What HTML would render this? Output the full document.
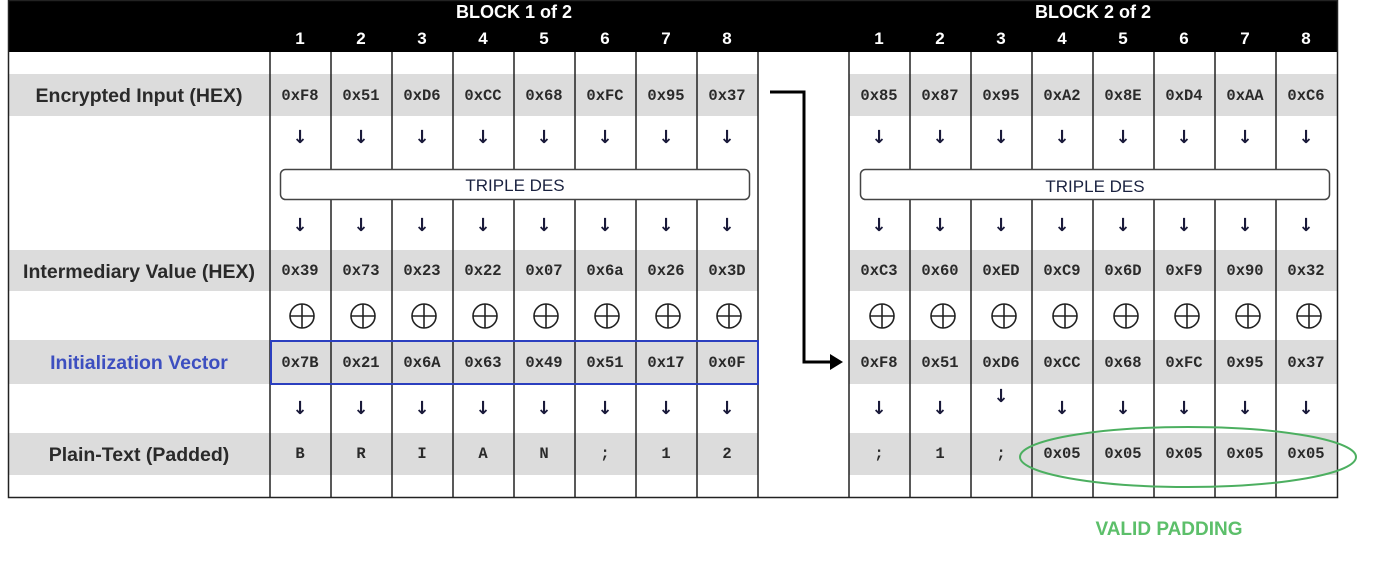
<!DOCTYPE html>
<html><head><meta charset="utf-8"><style>
html,body{margin:0;padding:0;background:#fff;width:1384px;height:562px;overflow:hidden}
svg{display:block}
.h{font-family:"Liberation Mono",monospace;font-size:15.5px;font-weight:bold;fill:#2a2a2a;text-anchor:middle}
.a{font-family:"DejaVu Sans",sans-serif;font-size:18px;font-weight:bold;fill:#1a1a3a;text-anchor:middle}
.l{font-family:"Liberation Sans",sans-serif;font-size:19.5px;font-weight:bold;fill:#2a2a2a;text-anchor:middle}
.n{font-family:"Liberation Sans",sans-serif;font-size:17px;font-weight:bold;fill:#fff;text-anchor:middle}
.t{font-family:"Liberation Sans",sans-serif;font-size:17px;fill:#1a2240;text-anchor:middle}
</style></head><body>
<svg width="1384" height="562" xmlns="http://www.w3.org/2000/svg">
<rect x="8" y="0" width="1329" height="52" fill="#000"/>
<text class="n" x="514" y="18" style="font-size:18px">BLOCK 1 of 2</text>
<text class="n" x="1093" y="18" style="font-size:18px">BLOCK 2 of 2</text>
<g class="n">
<text x="300" y="44">1</text><text x="361" y="44">2</text><text x="422" y="44">3</text><text x="483" y="44">4</text><text x="544" y="44">5</text><text x="605" y="44">6</text><text x="666" y="44">7</text><text x="727" y="44">8</text>
<text x="879" y="44">1</text><text x="940" y="44">2</text><text x="1001" y="44">3</text><text x="1062" y="44">4</text><text x="1123" y="44">5</text><text x="1184" y="44">6</text><text x="1245" y="44">7</text><text x="1306" y="44">8</text>
</g>
<g fill="#dcdcdc">
<rect x="8" y="74" width="750" height="42"/><rect x="849" y="74" width="488" height="42"/>
<rect x="8" y="250" width="750" height="41"/><rect x="849" y="250" width="488" height="41"/>
<rect x="8" y="340" width="750" height="44"/><rect x="849" y="340" width="488" height="44"/>
<rect x="8" y="433" width="750" height="42"/><rect x="849" y="433" width="488" height="42"/>
</g>
<g stroke="#222" stroke-width="1.5">
<line x1="270" y1="52" x2="270" y2="497"/><line x1="331" y1="52" x2="331" y2="497"/><line x1="392" y1="52" x2="392" y2="497"/><line x1="453" y1="52" x2="453" y2="497"/><line x1="514" y1="52" x2="514" y2="497"/><line x1="575" y1="52" x2="575" y2="497"/><line x1="636" y1="52" x2="636" y2="497"/><line x1="697" y1="52" x2="697" y2="497"/><line x1="758" y1="52" x2="758" y2="497"/>
<line x1="849" y1="52" x2="849" y2="497"/><line x1="910" y1="52" x2="910" y2="497"/><line x1="971" y1="52" x2="971" y2="497"/><line x1="1032" y1="52" x2="1032" y2="497"/><line x1="1093" y1="52" x2="1093" y2="497"/><line x1="1154" y1="52" x2="1154" y2="497"/><line x1="1215" y1="52" x2="1215" y2="497"/><line x1="1276" y1="52" x2="1276" y2="497"/>
</g>
<rect x="8.5" y="0.5" width="1329" height="497" fill="none" stroke="#222" stroke-width="1.5"/>
<rect x="280.5" y="169.5" width="469" height="30" rx="5" fill="#fff" stroke="#444" stroke-width="1.5"/>
<rect x="860.5" y="169.5" width="469" height="30" rx="5" fill="#fff" stroke="#444" stroke-width="1.5"/>
<text class="t" x="515" y="191">TRIPLE DES</text>
<text class="t" x="1095" y="192">TRIPLE DES</text>

<text class="l" x="139" y="102">Encrypted Input (HEX)</text>
<text class="l" x="139" y="278">Intermediary Value (HEX)</text>
<text class="l" x="139" y="369" style="fill:#3d4fc0">Initialization Vector</text>
<text class="l" x="139" y="461">Plain-Text (Padded)</text>

<g class="h">
<text x="300" y="100">0xF8</text><text x="361" y="100">0x51</text><text x="422" y="100">0xD6</text><text x="483" y="100">0xCC</text><text x="544" y="100">0x68</text><text x="605" y="100">0xFC</text><text x="666" y="100">0x95</text><text x="727" y="100">0x37</text>
<text x="879" y="100">0x85</text><text x="940" y="100">0x87</text><text x="1001" y="100">0x95</text><text x="1062" y="100">0xA2</text><text x="1123" y="100">0x8E</text><text x="1184" y="100">0xD4</text><text x="1245" y="100">0xAA</text><text x="1306" y="100">0xC6</text>
<text x="300" y="275">0x39</text><text x="361" y="275">0x73</text><text x="422" y="275">0x23</text><text x="483" y="275">0x22</text><text x="544" y="275">0x07</text><text x="605" y="275">0x6a</text><text x="666" y="275">0x26</text><text x="727" y="275">0x3D</text>
<text x="879" y="275">0xC3</text><text x="940" y="275">0x60</text><text x="1001" y="275">0xED</text><text x="1062" y="275">0xC9</text><text x="1123" y="275">0x6D</text><text x="1184" y="275">0xF9</text><text x="1245" y="275">0x90</text><text x="1306" y="275">0x32</text>
<text x="300" y="367">0x7B</text><text x="361" y="367">0x21</text><text x="422" y="367">0x6A</text><text x="483" y="367">0x63</text><text x="544" y="367">0x49</text><text x="605" y="367">0x51</text><text x="666" y="367">0x17</text><text x="727" y="367">0x0F</text>
<text x="879" y="367">0xF8</text><text x="940" y="367">0x51</text><text x="1001" y="367">0xD6</text><text x="1062" y="367">0xCC</text><text x="1123" y="367">0x68</text><text x="1184" y="367">0xFC</text><text x="1245" y="367">0x95</text><text x="1306" y="367">0x37</text>
<text x="300" y="458">B</text><text x="361" y="458">R</text><text x="422" y="458">I</text><text x="483" y="458">A</text><text x="544" y="458">N</text><text x="605" y="458">;</text><text x="666" y="458">1</text><text x="727" y="458">2</text>
<text x="879" y="458">;</text><text x="940" y="458">1</text><text x="1001" y="458">;</text><text x="1062" y="458">0x05</text><text x="1123" y="458">0x05</text><text x="1184" y="458">0x05</text><text x="1245" y="458">0x05</text><text x="1306" y="458">0x05</text>
</g>

<g class="a">
<text x="300" y="143">↓</text><text x="361" y="143">↓</text><text x="422" y="143">↓</text><text x="483" y="143">↓</text><text x="544" y="143">↓</text><text x="605" y="143">↓</text><text x="666" y="143">↓</text><text x="727" y="143">↓</text>
<text x="879" y="143">↓</text><text x="940" y="143">↓</text><text x="1001" y="143">↓</text><text x="1062" y="143">↓</text><text x="1123" y="143">↓</text><text x="1184" y="143">↓</text><text x="1245" y="143">↓</text><text x="1306" y="143">↓</text>
<text x="300" y="231">↓</text><text x="361" y="231">↓</text><text x="422" y="231">↓</text><text x="483" y="231">↓</text><text x="544" y="231">↓</text><text x="605" y="231">↓</text><text x="666" y="231">↓</text><text x="727" y="231">↓</text>
<text x="879" y="231">↓</text><text x="940" y="231">↓</text><text x="1001" y="231">↓</text><text x="1062" y="231">↓</text><text x="1123" y="231">↓</text><text x="1184" y="231">↓</text><text x="1245" y="231">↓</text><text x="1306" y="231">↓</text>
<text x="300" y="414">↓</text><text x="361" y="414">↓</text><text x="422" y="414">↓</text><text x="483" y="414">↓</text><text x="544" y="414">↓</text><text x="605" y="414">↓</text><text x="666" y="414">↓</text><text x="727" y="414">↓</text>
<text x="879" y="414">↓</text><text x="940" y="414">↓</text><text x="1001" y="402">↓</text><text x="1062" y="414">↓</text><text x="1123" y="414">↓</text><text x="1184" y="414">↓</text><text x="1245" y="414">↓</text><text x="1306" y="414">↓</text>
</g>

<g fill="none" stroke="#222" stroke-width="1.6">
<g id="x"><circle cx="302" cy="316" r="12"/><line x1="290" y1="316" x2="314" y2="316"/><line x1="302" y1="304" x2="302" y2="328"/></g>
<use href="#x" x="61"/><use href="#x" x="122"/><use href="#x" x="183"/><use href="#x" x="244"/><use href="#x" x="305"/><use href="#x" x="366"/><use href="#x" x="427"/>
<use href="#x" x="580"/><use href="#x" x="641"/><use href="#x" x="702"/><use href="#x" x="763"/><use href="#x" x="824"/><use href="#x" x="885"/><use href="#x" x="946"/><use href="#x" x="1007"/>
</g>

<rect x="271" y="341" width="487" height="43" fill="none" stroke="#2b3fbf" stroke-width="2"/>

<path d="M770 92 H804 V362 H832" fill="none" stroke="#000" stroke-width="3"/>
<path d="M830 354 L843 362 L830 370 Z" fill="#000"/>

<ellipse cx="1188" cy="457" rx="168" ry="30" fill="none" stroke="#4caf60" stroke-width="2"/>
<text x="1169" y="535" style="font-family:'Liberation Sans',sans-serif;font-size:19px;font-weight:bold;fill:#5cbf6a;text-anchor:middle">VALID PADDING</text>
</svg>
</body></html>
